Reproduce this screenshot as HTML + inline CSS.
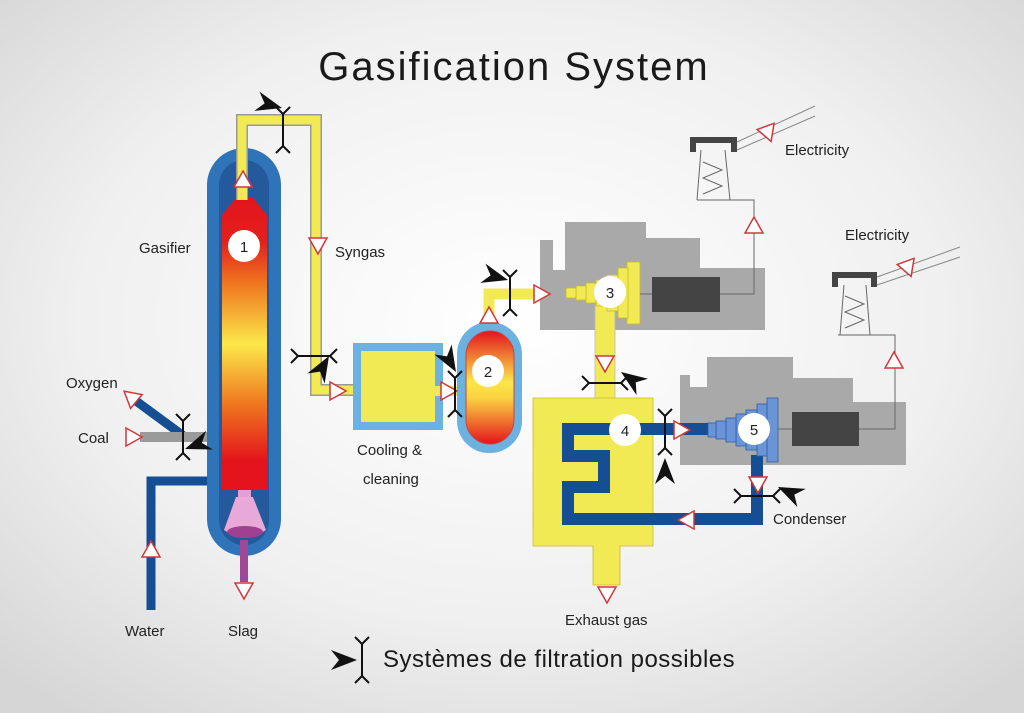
<!DOCTYPE html>
<html><head><meta charset="utf-8"><style>
html,body{margin:0;padding:0;width:1024px;height:713px;overflow:hidden}
svg{display:block}
text{font-family:"Liberation Sans",sans-serif;fill:#222}
</style></head><body>
<svg width="1024" height="713" viewBox="0 0 1024 713" xmlns="http://www.w3.org/2000/svg">
<defs>
<radialGradient id="bg" cx="50%" cy="45%" r="70%"><stop offset="0" stop-color="#ffffff"/><stop offset="0.6" stop-color="#f0f0f0"/><stop offset="1" stop-color="#d6d6d6"/></radialGradient>
<linearGradient id="hot" x1="0" y1="0" x2="0" y2="1">
<stop offset="0" stop-color="#e3141c"/><stop offset="0.15" stop-color="#e3201c"/><stop offset="0.3" stop-color="#f07a20"/><stop offset="0.5" stop-color="#fbe84a"/><stop offset="0.7" stop-color="#f07a20"/><stop offset="0.9" stop-color="#e3141c"/><stop offset="1" stop-color="#e3141c"/></linearGradient>
<linearGradient id="hot2" x1="0" y1="0" x2="0" y2="1">
<stop offset="0" stop-color="#e3141c"/><stop offset="0.45" stop-color="#fbe84a"/><stop offset="0.6" stop-color="#fbd040"/><stop offset="1" stop-color="#e3141c"/></linearGradient>
<path id="tri" d="M0,-9 L9,7 L-9,7 Z" fill="#fff" stroke="#d2363a" stroke-width="1.5"/>
<g id="flt" stroke="#111" stroke-width="2" fill="none"><path d="M0,-16V16M0,-16L-7,-23M0,-16L7,-23M0,16L-7,23M0,16L7,23"/></g>
<path id="dart" d="M0,0 L-26,-10 L-18,0 L-26,10 Z" fill="#111"/>
</defs>
<rect width="1024" height="713" fill="url(#bg)"/>
<text x="514" y="80" text-anchor="middle" font-size="40" style="fill:#1a1a1a;letter-spacing:2px">Gasification  System</text>

<path d="M151,610 V481 H222" fill="none" stroke="#154e93" stroke-width="9"/>
<path d="M132,398 L185,437" stroke="#154e93" stroke-width="9"/>
<rect x="140" y="432" width="82" height="10" fill="#9a9a9a"/>
<rect x="207" y="148" width="74" height="408" rx="37" fill="#2f73b9"/>
<rect x="219" y="160" width="50" height="385" rx="25" fill="#245a9c"/>
<path d="M222,215 L236,198 L253,198 L267,215 L267,490 L222,490 Z" fill="url(#hot)"/>
<rect x="238" y="490" width="13" height="8" fill="#e3a0d0"/>
<path d="M236,497 L253,497 L266,530 Q244,545 224,530 Z" fill="#e8a8d8"/>
<ellipse cx="245" cy="532" rx="18" ry="6" fill="#a04090"/>
<rect x="240" y="540" width="8" height="42" fill="#a04898"/>
<path d="M242,200 V120 H316 V390 H358" fill="none" stroke="#999" stroke-width="12"/>
<path d="M242,200 V120 H316 V390 H358" fill="none" stroke="#f1ea55" stroke-width="9"/>
<rect x="238" y="180" width="9" height="20" fill="#f1ea55"/>
<rect x="353" y="343" width="90" height="87" fill="#6cb2e0"/>
<rect x="361" y="351" width="74" height="71" fill="#f1ea55"/>
<rect x="435" y="386" width="25" height="10" fill="#f1ea55"/>
<rect x="457" y="322" width="65" height="131" rx="32" fill="#6cb2e0"/>
<rect x="466" y="331" width="48" height="113" rx="24" fill="url(#hot2)" stroke="#c44" stroke-width="1"/>
<path d="M489,322 V294 H545" fill="none" stroke="#f1ea55" stroke-width="11"/>
<path d="M540,240 H553 V270 H565 V222 H646 V238 H700 V268 H765 V330 H540 Z" fill="#a9a9a9"/>
<rect x="652" y="277" width="68" height="35" fill="#444"/>
<path d="M720,294 H754 V200 H697" fill="none" stroke="#666" stroke-width="1"/>
<path d="M697,200 L701,150 M730,200 L725,150 M703,162 L722,170 L703,178 L722,186 L703,194" fill="none" stroke="#666" stroke-width="1"/>
<path d="M690,152 V137 H737 V152 H731 V143 H696 V152 Z" fill="#444"/>
<path d="M737,142 L815,106 M737,150 L815,116" stroke="#888" stroke-width="1"/>
<rect x="595" y="305" width="20" height="95" fill="#f1ea55" stroke="#bbb" stroke-width="0.8"/>
<g fill="#f1ea55" stroke="#c8b830" stroke-width="0.8">
<rect x="627" y="262" width="13" height="62"/><rect x="618" y="268" width="10" height="50"/><rect x="607" y="275" width="11" height="36"/><rect x="596" y="280" width="11" height="26"/><rect x="586" y="283" width="10" height="20"/><rect x="576" y="286" width="10" height="14"/><rect x="566" y="288" width="10" height="10"/></g>
<path d="M640,294 H652" stroke="#666"/>
<path d="M533,398 H653 V546 H620 V585 H593 V546 H533 Z" fill="#f1ea55" stroke="#c8b830" stroke-width="0.8"/>
<path d="M680,375 H690 V387 H707 V357 H793 V378 H853 V402 H906 V465 H680 Z" fill="#a9a9a9"/>
<rect x="792" y="412" width="67" height="34" fill="#444"/>
<path d="M859,429 H895 V335 H838" fill="none" stroke="#666" stroke-width="1"/>
<path d="M840,335 L844,285 M870,335 L866,285 M845,296 L864,304 L845,312 L864,320 L845,328" fill="none" stroke="#666" stroke-width="1"/>
<path d="M832,287 V272 H877 V287 H871 V278 H838 V287 Z" fill="#444"/>
<path d="M877,277 L960,247 M877,285 L960,257" stroke="#888" stroke-width="1"/>
<path d="M712,429 H568 V456 H604 V487 H568 V519 H757 V455" fill="none" stroke="#154e93" stroke-width="12"/>
<g fill="#6a94d6" stroke="#2f5ea8" stroke-width="0.8">
<rect x="767" y="398" width="11" height="64"/><rect x="757" y="404" width="10" height="52"/><rect x="746" y="410" width="11" height="40"/><rect x="736" y="414" width="10" height="32"/><rect x="726" y="418" width="10" height="24"/><rect x="716" y="421" width="10" height="18"/><rect x="708" y="423" width="8" height="14"/></g>
<path d="M778,429 H792" stroke="#666"/>
<g fill="#fff"><circle cx="244" cy="246" r="16"/><circle cx="488" cy="371" r="16"/><circle cx="610" cy="292" r="16"/><circle cx="625" cy="430" r="16"/><circle cx="754" cy="429" r="16"/></g>
<g font-size="15" text-anchor="middle"><text x="244" y="252">1</text><text x="488" y="377">2</text><text x="610" y="298">3</text><text x="625" y="436">4</text><text x="754" y="435">5</text></g>
<use href="#tri" transform="translate(243,180)"/>
<use href="#tri" transform="translate(318,245) rotate(180)"/>
<use href="#tri" transform="translate(337,391) rotate(90)"/>
<use href="#tri" transform="translate(448,391) rotate(90)"/>
<use href="#tri" transform="translate(489,316)"/>
<use href="#tri" transform="translate(541,294) rotate(90)"/>
<use href="#tri" transform="translate(605,363) rotate(180)"/>
<use href="#tri" transform="translate(607,594) rotate(180)"/>
<use href="#tri" transform="translate(681,430) rotate(90)"/>
<use href="#tri" transform="translate(687,520) rotate(-90)"/>
<use href="#tri" transform="translate(758,484) rotate(180)"/>
<use href="#tri" transform="translate(754,226)"/>
<use href="#tri" transform="translate(894,361)"/>
<use href="#tri" transform="translate(768,133) rotate(160)"/>
<use href="#tri" transform="translate(908,268) rotate(160)"/>
<use href="#tri" transform="translate(131,397) rotate(-50)"/>
<use href="#tri" transform="translate(133,437) rotate(90)"/>
<use href="#tri" transform="translate(151,550)"/>
<use href="#tri" transform="translate(244,590) rotate(180)"/>
<use href="#flt" transform="translate(283,130)"/>
<use href="#dart" transform="translate(282,108) rotate(15)"/>
<use href="#flt" transform="translate(314,356) rotate(90)"/>
<use href="#dart" transform="translate(329,356) rotate(-60)"/>
<use href="#flt" transform="translate(455,394)"/>
<use href="#dart" transform="translate(456,372) rotate(60)"/>
<use href="#flt" transform="translate(510,293)"/>
<use href="#dart" transform="translate(508,280) rotate(15)"/>
<use href="#flt" transform="translate(605,383) rotate(90)"/>
<use href="#dart" transform="translate(621,372) rotate(-145)"/>
<use href="#flt" transform="translate(665,432)"/>
<use href="#dart" transform="translate(665,458) rotate(-90)"/>
<use href="#flt" transform="translate(757,496) rotate(90)"/>
<use href="#dart" transform="translate(778,487) rotate(-155)"/>
<use href="#flt" transform="translate(183,437)"/>
<use href="#dart" transform="translate(185,449) rotate(160)"/>
<use href="#flt" transform="translate(362,660)"/>
<use href="#dart" transform="translate(357,660)"/>
<g font-size="15">
<text x="139" y="253">Gasifier</text>
<text x="335" y="257">Syngas</text>
<text x="66" y="388">Oxygen</text>
<text x="78" y="443">Coal</text>
<text x="125" y="636">Water</text>
<text x="228" y="636">Slag</text>
<text x="357" y="455">Cooling  &amp;</text>
<text x="363" y="484">cleaning</text>
<text x="785" y="155">Electricity</text>
<text x="845" y="240">Electricity</text>
<text x="773" y="524">Condenser</text>
<text x="565" y="625">Exhaust  gas</text>
</g>
<text x="383" y="667" font-size="24" style="fill:#1a1a1a;letter-spacing:0.5px">Systèmes de filtration possibles</text>
</svg>
</body></html>
